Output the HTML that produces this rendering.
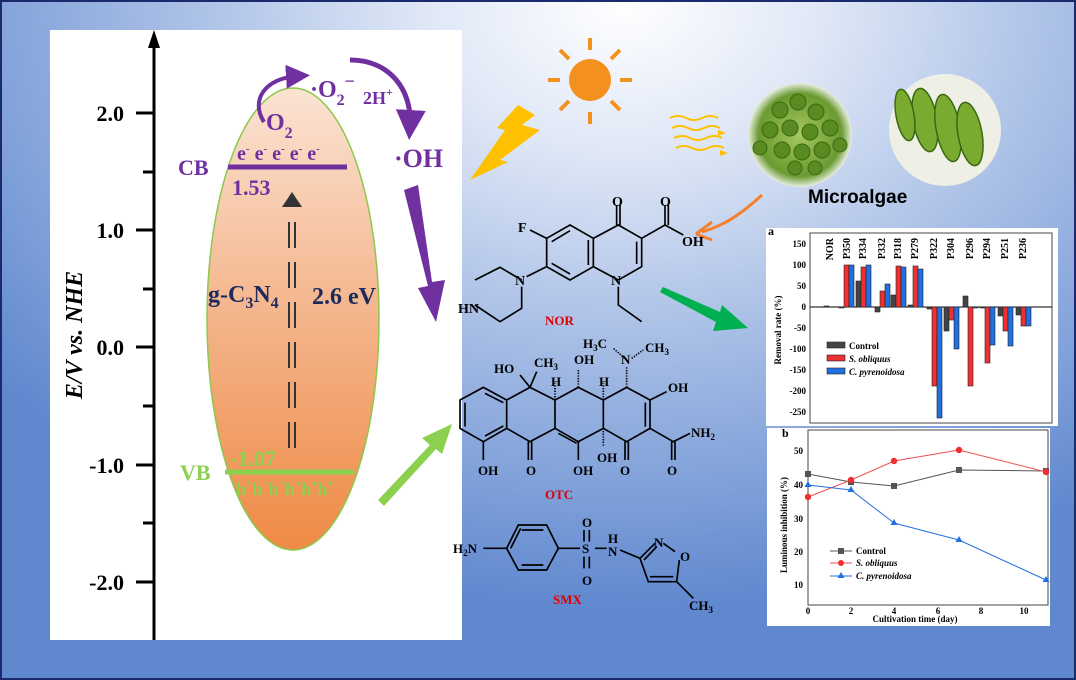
<!DOCTYPE html>
<html><head><meta charset="utf-8"><style>
html,body{margin:0;padding:0}
body{width:1076px;height:680px;overflow:hidden;font-family:"Liberation Serif",serif}
.bg{position:absolute;left:0;top:0;width:1072px;height:676px;border:2px solid #1a2a6c;
background:radial-gradient(ellipse 75% 90% at 58% 0%, #ffffff 0%, #dfe7f6 25%, #a9bfe6 55%, #5f88cf 100%)}
svg{position:absolute;left:0;top:0}
</style></head><body><div class="bg"></div>
<svg width="1076" height="680" viewBox="0 0 1076 680" font-family="Liberation Serif, serif" font-weight="bold">
<defs>
<linearGradient id="eg" x1="0" y1="0" x2="0" y2="1"><stop offset="0" stop-color="#fbe3d3"/><stop offset="0.5" stop-color="#f4b48a"/><stop offset="1" stop-color="#ef8a45"/></linearGradient>
<radialGradient id="al" cx="0.5" cy="0.5" r="0.5"><stop offset="0" stop-color="#a8c860"/><stop offset="0.8" stop-color="#6a9a30"/><stop offset="1" stop-color="#e8eee0"/></radialGradient>
<marker id="ah" markerWidth="6" markerHeight="6" refX="3" refY="3" orient="auto"><path d="M0,0L6,3L0,6z" fill="#7030a0"/></marker>
</defs>
<rect x="50" y="30" width="412" height="610" fill="#fff"/>
<line x1="154" y1="40" x2="154" y2="640" stroke="#000" stroke-width="3"/>
<path d="M148,48L154,30L160,48z" fill="#000"/>
<g stroke="#000" stroke-width="3">
<line x1="136" y1="113" x2="154" y2="113"/><line x1="143" y1="172" x2="154" y2="172"/>
<line x1="136" y1="230" x2="154" y2="230"/><line x1="143" y1="289" x2="154" y2="289"/>
<line x1="136" y1="347" x2="154" y2="347"/><line x1="143" y1="406" x2="154" y2="406"/>
<line x1="136" y1="465" x2="154" y2="465"/><line x1="143" y1="523" x2="154" y2="523"/>
<line x1="136" y1="582" x2="154" y2="582"/>
</g>
<g font-size="22" text-anchor="end" fill="#000">
<text x="124" y="121">2.0</text><text x="124" y="238">1.0</text><text x="124" y="355">0.0</text>
<text x="124" y="473">-1.0</text><text x="124" y="590">-2.0</text></g>
<text transform="translate(82,335) rotate(-90)" font-size="24" text-anchor="middle" font-style="italic">E/V vs. NHE</text>
<ellipse cx="293" cy="319" rx="86" ry="231" fill="url(#eg)" stroke="#8cc84a" stroke-width="1.5"/>
<line x1="228" y1="167" x2="347" y2="167" stroke="#7030a0" stroke-width="5"/>
<line x1="225" y1="472" x2="354" y2="472" stroke="#8cd050" stroke-width="5"/>
<g fill="#7030a0" font-size="22">
<text x="178" y="175">CB</text><text x="232" y="195">1.53</text>
<text x="237" y="160" font-size="20">e<tspan font-size="11" dy="-8">-</tspan><tspan dy="8"> e</tspan><tspan font-size="11" dy="-8">-</tspan><tspan dy="8"> e</tspan><tspan font-size="11" dy="-8">-</tspan><tspan dy="8"> e</tspan><tspan font-size="11" dy="-8">-</tspan><tspan dy="8"> e</tspan><tspan font-size="11" dy="-8">-</tspan></text>
<text x="266" y="130" font-size="24">O<tspan font-size="16" dy="8">2</tspan></text>
<text x="310" y="97" font-size="24">·O<tspan font-size="16" dy="8">2</tspan><tspan font-size="18" dy="-18">−</tspan></text>
<text x="363" y="104" font-size="18">2H<tspan font-size="12" dy="-8">+</tspan></text>
<text x="394" y="167" font-size="26">·OH</text>
</g>
<path d="M264,122 C250,100 265,78 298,76" fill="none" stroke="#7030a0" stroke-width="4" marker-end="url(#ah)"/>
<path d="M350,60 C390,60 412,90 410,125" fill="none" stroke="#7030a0" stroke-width="5" marker-end="url(#ah)"/>
<path d="M404,190 L418,185 L432,282 L445,280 L436,322 L418,288 L428,286z" fill="#7030a0"/>
<path d="M292,192 L302,207 L282,207z" fill="#333"/>
<g stroke="#333" stroke-width="2"><line x1="289" y1="222" x2="289" y2="460" stroke-dasharray="26,14"/><line x1="295" y1="222" x2="295" y2="460" stroke-dasharray="26,14"/></g>
<text x="208" y="302" font-size="24" fill="#1f2a5c">g-C<tspan font-size="16" dy="6">3</tspan><tspan dy="-6">N</tspan><tspan font-size="16" dy="6">4</tspan></text>
<text x="312" y="304" font-size="24" fill="#1f2a5c">2.6 eV</text>
<g fill="#8cd050" font-size="22"><text x="180" y="480">VB</text><text x="230" y="466">-1.07</text>
<text x="236" y="495" font-size="18">h<tspan font-size="11" dy="-8">+</tspan><tspan dy="8">h</tspan><tspan font-size="11" dy="-8">+</tspan><tspan dy="8">h</tspan><tspan font-size="11" dy="-8">+</tspan><tspan dy="8">h</tspan><tspan font-size="11" dy="-8">+</tspan><tspan dy="8">h</tspan><tspan font-size="11" dy="-8">+</tspan><tspan dy="8">h</tspan><tspan font-size="11" dy="-8">+</tspan></text></g>
<path d="M378,500 L430,445 L422,438 L452,424 L442,454 L436,449 L384,506z" fill="#8cd050"/>
<path d="M470,180 L505,130 L497,128 L518,105 L535,115 L522,125 L540,130 L500,160 L508,162z" fill="#ffc000"/>
<g stroke="#f4901e" stroke-width="4"><line x1="590" y1="38" x2="590" y2="50"/><line x1="590" y1="112" x2="590" y2="124"/><line x1="548" y1="80" x2="560" y2="80"/><line x1="620" y1="80" x2="632" y2="80"/><line x1="560" y1="50" x2="569" y2="59"/><line x1="611" y1="101" x2="620" y2="110"/><line x1="620" y1="50" x2="611" y2="59"/><line x1="569" y1="101" x2="560" y2="110"/></g>
<circle cx="590" cy="80" r="21" fill="#f4901e"/>
<g fill="none" stroke="#ffc000" stroke-width="2">
<path d="M670,118 q8,-4 16,0 t16,0 t16,0"/><path d="M672,128 q8,-4 16,0 t16,0 t16,0"/><path d="M674,138 q8,-4 16,0 t16,0 t16,0"/><path d="M676,148 q8,-4 16,0 t16,0 t16,0"/></g>
<path d="M718,130 l8,3 l-8,3z M720,150 l8,3 l-8,3z" fill="#ffc000"/>
<circle cx="800" cy="135" r="52" fill="url(#al)"/>
<g fill="#5a8a22" stroke="#3a6a10" stroke-width="1">
<circle cx="780" cy="110" r="8"/><circle cx="798" cy="102" r="8"/><circle cx="816" cy="112" r="8"/><circle cx="770" cy="130" r="8"/><circle cx="790" cy="128" r="8"/><circle cx="810" cy="132" r="8"/><circle cx="830" cy="128" r="8"/><circle cx="782" cy="150" r="8"/><circle cx="802" cy="152" r="8"/><circle cx="822" cy="150" r="8"/><circle cx="795" cy="168" r="7"/><circle cx="815" cy="168" r="7"/><circle cx="840" cy="145" r="7"/><circle cx="760" cy="148" r="7"/></g>
<circle cx="945" cy="130" r="56" fill="#eef0e6"/>
<g fill="#7aaa30" stroke="#3a6a10" stroke-width="1.5">
<ellipse cx="925" cy="120" rx="12" ry="32" transform="rotate(-10 925 120)"/><ellipse cx="948" cy="128" rx="12" ry="34" transform="rotate(-10 948 128)"/><ellipse cx="970" cy="134" rx="12" ry="32" transform="rotate(-10 970 134)"/><ellipse cx="905" cy="115" rx="9" ry="26" transform="rotate(-10 905 115)"/></g>
<text x="808" y="203" font-size="19" font-family="Liberation Sans, sans-serif">Microalgae</text>
<path d="M762,195 C740,215 725,225 702,232" fill="none" stroke="#f4802e" stroke-width="3"/>
<path d="M696,234 L712,222 M696,234 L712,240" stroke="#f4802e" stroke-width="3"/>
<path d="M663,287 L720,312 L722,305 L748,328 L713,331 L716,322 L660,292z" fill="#00b050"/>
<g transform="translate(440,180) scale(0.33333)" stroke="#000" stroke-width="5" fill="none">
<path d="M320,175L390,135L460,175L460,260L390,300L320,260Z"/><path d="M335,185L390,152M445,180L445,255M335,250L390,282"/>
<path d="M460,175L535,135L605,175L605,260L535,300M460,260L535,300"/><path d="M590,185L590,252"/>
<path d="M530,135L530,75M540,135L540,75"/><path d="M605,175L675,135L675,75M685,135L685,75M675,135L730,165"/>
<path d="M320,175L270,150"/><path d="M320,260L260,290"/>
<path d="M245,300L180,262L105,300M105,375L180,425L245,385L245,320"/>
<path d="M535,320L535,375L605,425"/>
<path d="M60,660L130,622L200,660L200,745L130,785L60,745Z M75,668L75,740 M135,640L190,668 M135,768L190,738"/>
<path d="M200,660L270,622L345,660L345,745L270,785L200,745"/>
<path d="M345,660L415,622L490,660L490,745L415,785L345,745 M355,760L410,790"/>
<path d="M490,660L560,622L630,660L630,745L560,785L490,745 M616,668L616,740"/>
<path d="M130,785L130,840 M265,785L265,840M275,785L275,840 M415,785L415,840 M555,785L555,840M565,785L565,840"/>
<path d="M630,745L700,785L750,760 M695,785L695,840M705,785L705,840 M630,660L680,635"/>
<path d="M270,622L240,585 M270,622L290,575"/>
<path d="M415,622L415,570 M345,660L345,610 M490,660L490,610 M490,745L490,800 M560,622L560,560 M560,540L520,505 M575,535L610,510" stroke-dasharray="4,4"/>
<path d="M200,1105L235,1035L320,1035L355,1105L320,1170L235,1170Z M245,1050L310,1050 M245,1155L310,1155 M212,1105L242,1045"/>
<path d="M130,1105L200,1105 M355,1105L420,1105 M432,1085L432,1050M448,1085L448,1050 M432,1130L432,1165M448,1130L448,1165 M465,1105L500,1105 M540,1110L600,1135"/>
<path d="M600,1135L645,1090 M670,1090L705,1115 M718,1140L710,1205L625,1205L600,1135 M612,1140L650,1100 M630,1190L700,1190 M710,1205L760,1255"/>
</g>
<g font-size="14" fill="#000">
<text x="518" y="232">F</text><text x="612" y="206">O</text><text x="660" y="206">O</text><text x="682" y="246">OH</text>
<text x="515" y="285">N</text><text x="458" y="313">HN</text><text x="611" y="285">N</text>
<text x="545" y="325" fill="#e00000" font-size="13">NOR</text>
<text x="583" y="348" font-size="13">H<tspan font-size="9" dy="3">3</tspan><tspan dy="-3">C</tspan></text>
<text x="645" y="352" font-size="13">CH<tspan font-size="9" dy="3">3</tspan></text>
<text x="621" y="364" font-size="13">N</text>
<text x="494" y="373" font-size="13">HO</text><text x="534" y="367" font-size="13">CH<tspan font-size="9" dy="3">3</tspan></text>
<text x="574" y="364" font-size="13">OH</text><text x="551" y="386" font-size="13">H</text><text x="599" y="386" font-size="13">H</text>
<text x="668" y="392" font-size="13">OH</text><text x="691" y="437" font-size="13">NH<tspan font-size="9" dy="3">2</tspan></text>
<text x="478" y="475" font-size="13">OH</text><text x="526" y="475" font-size="13">O</text><text x="573" y="475" font-size="13">OH</text>
<text x="597" y="462" font-size="13">OH</text><text x="620" y="475" font-size="13">O</text><text x="667" y="475" font-size="13">O</text>
<text x="545" y="499" fill="#e00000" font-size="13">OTC</text>
<text x="453" y="553" font-size="13">H<tspan font-size="9" dy="3">2</tspan><tspan dy="-3">N</tspan></text>
<text x="582" y="527" font-size="13">O</text><text x="582" y="553" font-size="13">S</text><text x="582" y="585" font-size="13">O</text>
<text x="608" y="543" font-size="13">H</text><text x="608" y="556" font-size="13">N</text>
<text x="654" y="547" font-size="13">N</text><text x="680" y="561" font-size="13">O</text>
<text x="689" y="610" font-size="13">CH<tspan font-size="9" dy="3">3</tspan></text>
<text x="553" y="604" fill="#e00000" font-size="13">SMX</text>
</g>
<rect x="766" y="228" width="292" height="198" fill="#fff"/>
<text x="768" y="235" font-size="12">a</text>
<rect x="810" y="233" width="242" height="190" fill="none" stroke="#444" stroke-width="1"/>
<line x1="810" y1="307" x2="1052" y2="307" stroke="#000" stroke-width="1"/>
<g font-size="9" text-anchor="end"><text x="806" y="247">150</text><text x="806" y="268">100</text><text x="806" y="289">50</text><text x="806" y="310">0</text><text x="806" y="331">-50</text><text x="806" y="352">-100</text><text x="806" y="373">-150</text><text x="806" y="394">-200</text><text x="806" y="415">-250</text></g>
<text transform="translate(781,330) rotate(-90)" font-size="9" text-anchor="middle">Removal rate (%)</text>
<g font-size="10">
<g transform="translate(833,236) rotate(-90)"><text text-anchor="end" x="-2">NOR</text></g>
<g transform="translate(850,236) rotate(-90)"><text text-anchor="end" x="-2">P350</text></g>
<g transform="translate(866,236) rotate(-90)"><text text-anchor="end" x="-2">P334</text></g>
<g transform="translate(885,236) rotate(-90)"><text text-anchor="end" x="-2">P332</text></g>
<g transform="translate(901,236) rotate(-90)"><text text-anchor="end" x="-2">P318</text></g>
<g transform="translate(918,236) rotate(-90)"><text text-anchor="end" x="-2">P279</text></g>
<g transform="translate(937,236) rotate(-90)"><text text-anchor="end" x="-2">P322</text></g>
<g transform="translate(954,236) rotate(-90)"><text text-anchor="end" x="-2">P304</text></g>
<g transform="translate(973,236) rotate(-90)"><text text-anchor="end" x="-2">P296</text></g>
<g transform="translate(990,236) rotate(-90)"><text text-anchor="end" x="-2">P294</text></g>
<g transform="translate(1008,236) rotate(-90)"><text text-anchor="end" x="-2">P251</text></g>
<g transform="translate(1026,236) rotate(-90)"><text text-anchor="end" x="-2">P236</text></g>
</g>
<g stroke="#222" stroke-width="0.6">
<g fill="#444"><rect x="824" y="306" width="5" height="1"/><rect x="839" y="307" width="5" height="1"/><rect x="856" y="281" width="5" height="26"/><rect x="875" y="307" width="5" height="5"/><rect x="891" y="295" width="5" height="12"/><rect x="908" y="305" width="5" height="2"/><rect x="927" y="307" width="5" height="2"/><rect x="944" y="307" width="5" height="24"/><rect x="963" y="296" width="5" height="11"/><rect x="980" y="307" width="5" height="1"/><rect x="998" y="307" width="5" height="9"/><rect x="1016" y="307" width="5" height="8"/></g>
<g fill="#f03030"><rect x="844" y="265" width="5" height="42"/><rect x="861" y="267" width="5" height="40"/><rect x="880" y="291" width="5" height="16"/><rect x="896" y="266" width="5" height="41"/><rect x="913" y="266" width="5" height="41"/><rect x="932" y="307" width="5" height="79"/><rect x="949" y="307" width="5" height="13"/><rect x="968" y="307" width="5" height="79"/><rect x="985" y="307" width="5" height="56"/><rect x="1003" y="307" width="5" height="24"/><rect x="1021" y="307" width="5" height="19"/></g>
<g fill="#2070e0"><rect x="849" y="265" width="5" height="42"/><rect x="866" y="265" width="5" height="42"/><rect x="885" y="284" width="5" height="23"/><rect x="901" y="267" width="5" height="40"/><rect x="918" y="269" width="5" height="38"/><rect x="937" y="307" width="5" height="111"/><rect x="954" y="307" width="5" height="42"/><rect x="973" y="307" width="5" height="1"/><rect x="990" y="307" width="5" height="38"/><rect x="1008" y="307" width="5" height="39"/><rect x="1026" y="307" width="5" height="19"/></g>
<rect x="827" y="342" width="18" height="6" fill="#444"/><rect x="827" y="355" width="18" height="6" fill="#f03030"/><rect x="827" y="368" width="18" height="6" fill="#2070e0"/>
</g>
<g font-size="9"><text x="849" y="349">Control</text><text x="849" y="362" font-style="italic">S. obliquus</text><text x="849" y="375" font-style="italic">C. pyrenoidosa</text></g>
<rect x="767" y="428" width="283" height="198" fill="#fff"/>
<text x="782" y="437" font-size="12">b</text>
<rect x="808" y="430" width="240" height="175" fill="none" stroke="#444" stroke-width="1"/>
<g font-size="9" text-anchor="end"><text x="803" y="454">50</text><text x="803" y="488">40</text><text x="803" y="522">30</text><text x="803" y="555">20</text><text x="803" y="588">10</text></g>
<g font-size="9" text-anchor="middle"><text x="808" y="614">0</text><text x="851" y="614">2</text><text x="894" y="614">4</text><text x="938" y="614">6</text><text x="981" y="614">8</text><text x="1024" y="614">10</text></g>
<text x="915" y="622" font-size="9" text-anchor="middle">Cultivation time (day)</text>
<text transform="translate(787,525) rotate(-90)" font-size="9" text-anchor="middle">Luminous inhibition (%)</text>
<polyline points="808,474 851,482 894,486 959,470 1046,471" fill="none" stroke="#555" stroke-width="1"/>
<polyline points="808,497 851,480 894,461 959,450 1046,472" fill="none" stroke="#f05050" stroke-width="1"/>
<polyline points="808,485 851,490 894,523 959,540 1046,580" fill="none" stroke="#2070e0" stroke-width="1"/>
<g fill="#555"><rect x="805" y="471" width="6" height="6"/><rect x="848" y="479" width="6" height="6"/><rect x="891" y="483" width="6" height="6"/><rect x="956" y="467" width="6" height="6"/><rect x="1043" y="468" width="6" height="6"/></g>
<g fill="#f03030"><circle cx="808" cy="497" r="3.2"/><circle cx="851" cy="480" r="3.2"/><circle cx="894" cy="461" r="3.2"/><circle cx="959" cy="450" r="3.2"/><circle cx="1046" cy="472" r="3.2"/></g>
<g fill="#2070e0"><path d="M808,481l3.5,6h-7z M851,486l3.5,6h-7z M894,519l3.5,6h-7z M959,536l3.5,6h-7z M1046,576l3.5,6h-7z"/></g>
<line x1="830" y1="551" x2="852" y2="551" stroke="#555"/><rect x="838" y="548" width="6" height="6" fill="#555"/>
<line x1="830" y1="563" x2="852" y2="563" stroke="#f05050"/><circle cx="841" cy="563" r="3" fill="#f03030"/>
<line x1="830" y1="576" x2="852" y2="576" stroke="#2070e0"/><path d="M841,572l3.5,6h-7z" fill="#2070e0"/>
<g font-size="9"><text x="856" y="554">Control</text><text x="856" y="566" font-style="italic">S. obliquus</text><text x="856" y="579" font-style="italic">C. pyrenoidosa</text></g>
</svg></body></html>
